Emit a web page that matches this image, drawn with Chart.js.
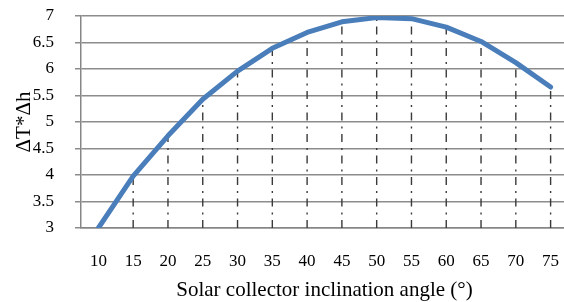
<!DOCTYPE html>
<html>
<head>
<meta charset="utf-8">
<script src="https://cdn.jsdelivr.net/npm/chart.js@4/dist/chart.umd.min.js"></script>
<style>
html,body{margin:0;padding:0;background:#fff;overflow:hidden;width:564px;height:302px;}
canvas{display:block;}
</style>
</head>
<body>
<canvas id="c" width="568" height="302" style="width:568px;height:302px"></canvas>
<script>
const categories = ['10','15','20','25','30','35','40','45','50','55','60','65','70','75'];
const values = [3.0, 3.98, 4.74, 5.43, 5.96, 6.39, 6.69, 6.89, 6.97, 6.95, 6.79, 6.52, 6.12, 5.66];
const yTicks = [3, 3.5, 4, 4.5, 5, 5.5, 6, 6.5, 7];
const xTitle = 'Solar collector inclination angle (°)';
const yTitle = 'ΔT*Δh';

const dropLines = {
  id: 'dropLines',
  beforeDatasetsDraw(chart) {
    const ctx = chart.ctx;
    const xs = chart.scales.x, ys = chart.scales.y;
    ctx.save();
    ctx.strokeStyle = '#3a3a3a';
    ctx.lineWidth = 1.4;
    ctx.setLineDash([8, 5.5, 2, 6]);
    values.forEach((v, i) => {
      const x = xs.getPixelForValue(i);
      const y = ys.getPixelForValue(v);
      const yb = ys.getPixelForValue(yTicks[0]);
      ctx.beginPath();
      ctx.moveTo(x, yb);
      ctx.lineTo(x, y);
      ctx.stroke();
    });
    ctx.restore();
  }
};

const fam = '"Liberation Serif", "Times New Roman", serif';
const tickFont = {family: fam, size: 17};

new Chart(document.getElementById('c'), {
  type: 'line',
  data: {
    labels: categories,
    datasets: [{
      data: values,
      borderColor: '#4A7EBB',
      borderWidth: 5,
      pointRadius: 0,
      tension: 0,
      fill: false,
      borderCapStyle: 'round',
      borderJoinStyle: 'round'
    }]
  },
  options: {
    responsive: false,
    maintainAspectRatio: false,
    animation: false,
    events: [],
    layout: {padding: {top: 16, right: 0, left: 0, bottom: 0}},
    plugins: {legend: {display: false}, tooltip: {enabled: false}},
    scales: {
      x: {
        offset: true,
        grid: {display: false, drawTicks: false},
        border: {display: true, color: '#868686', width: 1.5},
        ticks: {color: '#000', font: tickFont, padding: 23, maxRotation: 0, autoSkip: false},
        title: {display: true, text: xTitle, color: '#000',
          font: {family: fam, size: 21, lineHeight: 1.05}, padding: 0},
        afterFit(s) { s.height = 74; s.paddingLeft = 0; s.paddingRight = 0; }
      },
      y: {
        min: 3, max: 7,
        afterBuildTicks(s) { s.ticks = yTicks.map(v => ({value: v})); },
        grid: {color: '#8c8c8c', lineWidth: 1.5, tickLength: 6, drawTicks: true},
        border: {display: true, color: '#868686', width: 1.5},
        ticks: {color: '#000', font: tickFont, padding: 21, callback: v => String(v)},
        title: {display: true, text: yTitle, color: '#000',
          font: {family: fam, size: 21, lineHeight: 2.29}, padding: 0},
        afterFit(s) { s.width = 81; s.paddingTop = 0; s.paddingBottom = 0; }
      }
    }
  },
  plugins: [dropLines]
});
</script>
</body>
</html>
